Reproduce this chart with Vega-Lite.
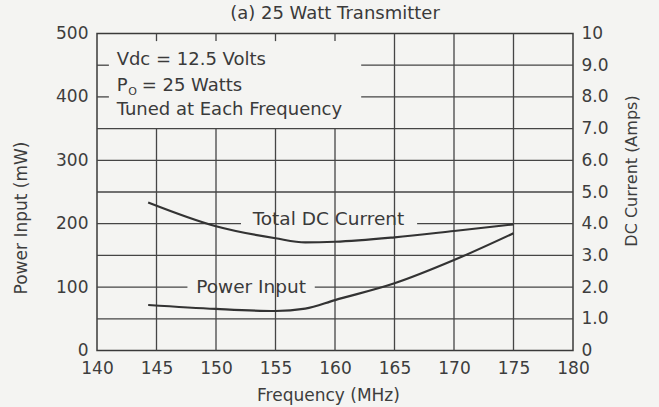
{
  "$schema": "https://vega.github.io/schema/vega-lite/v6.json",
  "width": 476,
  "height": 317,
  "autosize": {"type": "none"},
  "padding": {"left": 97, "top": 33.5, "right": 86, "bottom": 56.5},
  "background": "#f4f4f2",
  "title": {
    "text": "(a)  25 Watt Transmitter",
    "font": "DejaVu Sans",
    "fontSize": 18,
    "fontWeight": "normal",
    "color": "#3a3a3a",
    "anchor": "middle",
    "frame": "group",
    "baseline": "alphabetic",
    "offset": -12
  },
  "config": {
    "view": {"stroke": "#3a3a3a", "strokeWidth": 1.5},
    "axis": {
      "labelFont": "DejaVu Sans",
      "labelFontSize": 17,
      "labelColor": "#3d3d3d",
      "labelFlush": false,
      "titleFont": "DejaVu Sans",
      "titleFontSize": 17,
      "titleFontWeight": "normal",
      "titleColor": "#3d3d3d",
      "domain": false,
      "ticks": false,
      "tickSize": 0,
      "grid": false
    }
  },
  "datasets": {
    "grid": [
      {"f1": 145, "f2": 145, "p1": 0, "p2": 350},
      {"f1": 150, "f2": 150, "p1": 0, "p2": 350},
      {"f1": 155, "f2": 155, "p1": 0, "p2": 350},
      {"f1": 160, "f2": 160, "p1": 0, "p2": 350},
      {"f1": 145, "f2": 145, "p1": 488, "p2": 500},
      {"f1": 150, "f2": 150, "p1": 488, "p2": 500},
      {"f1": 155, "f2": 155, "p1": 488, "p2": 500},
      {"f1": 160, "f2": 160, "p1": 488, "p2": 500},
      {"f1": 165, "f2": 165, "p1": 0, "p2": 500},
      {"f1": 170, "f2": 170, "p1": 0, "p2": 500},
      {"f1": 175, "f2": 175, "p1": 0, "p2": 500},
      {"f1": 140, "f2": 180, "p1": 50, "p2": 50},
      {"f1": 140, "f2": 147.6, "p1": 100, "p2": 100},
      {"f1": 158.3, "f2": 180, "p1": 100, "p2": 100},
      {"f1": 140, "f2": 180, "p1": 150, "p2": 150},
      {"f1": 140, "f2": 152.1, "p1": 200, "p2": 200},
      {"f1": 166.9, "f2": 180, "p1": 200, "p2": 200},
      {"f1": 140, "f2": 180, "p1": 250, "p2": 250},
      {"f1": 140, "f2": 180, "p1": 300, "p2": 300},
      {"f1": 140, "f2": 180, "p1": 350, "p2": 350},
      {"f1": 162.2, "f2": 180, "p1": 400, "p2": 400},
      {"f1": 162.2, "f2": 180, "p1": 450, "p2": 450},
      {"f1": 140, "f2": 141, "p1": 400, "p2": 400},
      {"f1": 140, "f2": 141, "p1": 450, "p2": 450}
    ],
    "power": [
      {"freq": 144.3, "mw": 71.8},
      {"freq": 150, "mw": 65.5},
      {"freq": 155, "mw": 62.3},
      {"freq": 157.5, "mw": 66},
      {"freq": 160, "mw": 79.5},
      {"freq": 165, "mw": 106},
      {"freq": 170, "mw": 142.7},
      {"freq": 175, "mw": 185}
    ],
    "current": [
      {"freq": 144.3, "amps": 4.67},
      {"freq": 150, "amps": 3.92},
      {"freq": 155, "amps": 3.54},
      {"freq": 157.5, "amps": 3.41},
      {"freq": 160, "amps": 3.43},
      {"freq": 165, "amps": 3.57},
      {"freq": 170, "amps": 3.77},
      {"freq": 175, "amps": 3.98}
    ],
    "notes": [
      {"group": "box", "text": "Vdc = 12.5 Volts", "f": 141.65, "p": 450.3},
      {"group": "box", "text": "P", "f": 141.65, "p": 409.8},
      {"group": "box", "text": "= 25 Watts", "f": 143.75, "p": 409.8},
      {"group": "box", "text": "Tuned at Each Frequency", "f": 141.65, "p": 371.5},
      {"group": "sub", "text": "O", "f": 142.63, "p": 403},
      {"group": "dc", "text": "Total DC Current", "f": 159.45, "p": 200},
      {"group": "pin", "text": "Power Input", "f": 152.95, "p": 100}
    ]
  },
  "layer": [
    {
      "layer": [
        {
          "data": {"name": "grid"},
          "mark": {"type": "rule", "color": "#454545", "strokeWidth": 1.3},
          "encoding": {
            "x": {
              "field": "f1",
              "type": "quantitative",
              "title": "Frequency (MHz)",
              "scale": {"domain": [140, 180]},
              "axis": {
                "values": [140, 145, 150, 155, 160, 165, 170, 175, 180],
                "labelPadding": 10,
                "titleX": 231,
                "titleY": 50,
                "titleAlign": "center",
                "titleBaseline": "alphabetic"
              }
            },
            "x2": {"field": "f2"},
            "y": {
              "field": "p1",
              "type": "quantitative",
              "title": "Power Input (mW)",
              "scale": {"domain": [0, 500]},
              "axis": {
                "values": [0, 50, 100, 150, 200, 250, 300, 350, 400, 450, 500],
                "labelPadding": 9,
                "titleX": -76,
                "titleY": 184,
                "titleAngle": 270,
                "titleAlign": "center",
                "titleBaseline": "middle"
              }
            },
            "y2": {"field": "p2"}
          }
        },
        {
          "data": {"name": "power"},
          "mark": {"type": "line", "interpolate": "monotone", "color": "#333333", "strokeWidth": 2.2},
          "encoding": {
            "x": {"field": "freq", "type": "quantitative", "title": "Frequency (MHz)"},
            "y": {"field": "mw", "type": "quantitative", "title": "Power Input (mW)"}
          }
        },
        {
          "data": {"name": "notes"},
          "transform": [{"filter": "datum.group == 'box'"}],
          "mark": {"type": "text", "font": "DejaVu Sans", "fontSize": 18, "color": "#3a3a3a", "align": "left", "baseline": "alphabetic"},
          "encoding": {
            "x": {"field": "f", "type": "quantitative", "title": "Frequency (MHz)"},
            "y": {"field": "p", "type": "quantitative", "title": "Power Input (mW)"},
            "text": {"field": "text"}
          }
        },
        {
          "data": {"name": "notes"},
          "transform": [{"filter": "datum.group == 'sub'"}],
          "mark": {"type": "text", "font": "DejaVu Sans", "fontSize": 11, "color": "#3a3a3a", "align": "left", "baseline": "alphabetic"},
          "encoding": {
            "x": {"field": "f", "type": "quantitative", "title": "Frequency (MHz)"},
            "y": {"field": "p", "type": "quantitative", "title": "Power Input (mW)"},
            "text": {"field": "text"}
          }
        },
        {
          "data": {"name": "notes"},
          "transform": [{"filter": "datum.group == 'dc'"}],
          "mark": {"type": "text", "font": "DejaVu Sans", "fontSize": 18.5, "color": "#3a3a3a", "align": "center", "baseline": "alphabetic", "dy": 1},
          "encoding": {
            "x": {"field": "f", "type": "quantitative", "title": "Frequency (MHz)"},
            "y": {"field": "p", "type": "quantitative", "title": "Power Input (mW)"},
            "text": {"field": "text"}
          }
        },
        {
          "data": {"name": "notes"},
          "transform": [{"filter": "datum.group == 'pin'"}],
          "mark": {"type": "text", "font": "DejaVu Sans", "fontSize": 18.5, "color": "#3a3a3a", "align": "center", "baseline": "alphabetic", "dy": 6},
          "encoding": {
            "x": {"field": "f", "type": "quantitative", "title": "Frequency (MHz)"},
            "y": {"field": "p", "type": "quantitative", "title": "Power Input (mW)"},
            "text": {"field": "text"}
          }
        }
      ]
    },
    {
      "data": {"name": "current"},
      "mark": {"type": "line", "interpolate": "monotone", "color": "#333333", "strokeWidth": 2.2},
      "encoding": {
        "x": {"field": "freq", "type": "quantitative", "title": "Frequency (MHz)"},
        "y": {
          "field": "amps",
          "type": "quantitative",
          "title": "DC Current (Amps)",
          "scale": {"domain": [0, 10]},
          "axis": {
            "orient": "right",
            "values": [0, 1, 2, 3, 4, 5, 6, 7, 8, 9, 10],
            "labelExpr": "datum.value == 0 ? '0' : datum.value == 10 ? '10' : format(datum.value, '.1f')",
            "labelPadding": 8,
            "titleFontSize": 16,
            "titleX": 58,
            "titleY": 137,
            "titleAngle": 270,
            "titleAlign": "center",
            "titleBaseline": "middle"
          }
        }
      }
    }
  ],
  "resolve": {"scale": {"y": "independent"}}
}
